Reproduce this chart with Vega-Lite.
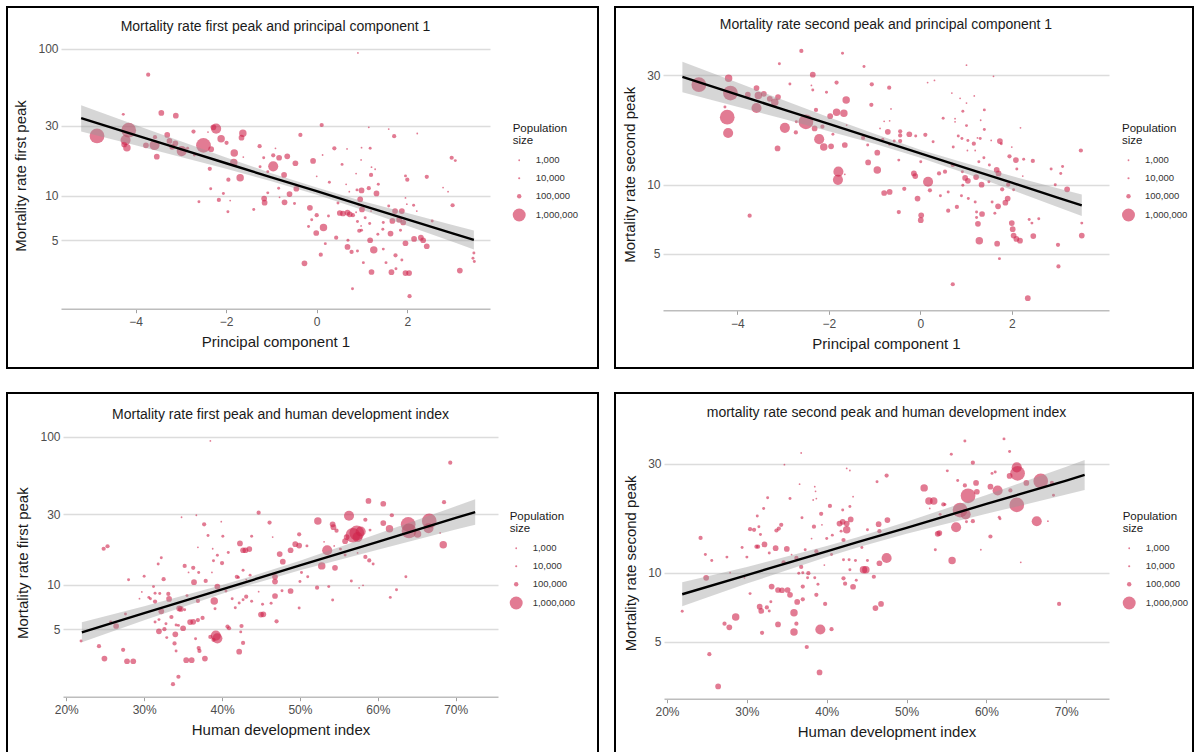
{
"$schema": "https://vega.github.io/schema/vega-lite/v6.json",
"padding": {"left": 6, "top": 6, "right": 0, "bottom": 0},
"background": "white",
"columns": 2,
"spacing": {"row": 25, "column": 17},
"bounds": "flush",
"resolve": {"scale": {"size": "independent", "x": "independent", "y": "independent"}, "legend": {"size": "independent"}},
"config": {
 "font": "Liberation Sans",
 "view": {"stroke": "#000000", "strokeWidth": 2},
 "axis": {"labelFont": "Liberation Sans", "labelFontSize": 12, "labelColor": "#4d4d4d", "titleFont": "Liberation Sans", "titleFontSize": 15, "titleFontWeight": "normal", "titleColor": "#1a1a1a", "gridColor": "#dcdcdc", "gridWidth": 1.4, "domainColor": "#bdbdbd", "domainWidth": 1.4, "tickColor": "#a0a0a0", "labelFlush": false},
 "axisX": {"grid": false, "tickSize": 4, "labelPadding": 4, "titlePadding": 7, "domain": true, "ticks": true},
 "axisY": {"grid": true, "domain": false, "ticks": false, "labelPadding": 3, "titlePadding": 9},
 "title": {"fontSize": 14, "fontWeight": "normal", "color": "#1a1a1a", "anchor": "middle", "frame": "group", "font": "Liberation Sans"},
 "legend": {"titleFontSize": 11.5, "titleFontWeight": "normal", "titleColor": "#1a1a1a", "labelFontSize": 9.5, "labelColor": "#333333", "rowPadding": 7, "labelOffset": 10, "titlePadding": 9, "titleLineHeight": 12, "symbolStrokeWidth": 0}
},
"datasets": {
 "p1": [
{"pc1":-3.72,"rate":66.8,"pop":90000},{"pc1":-4.27,"rate":35.9,"pop":35000},{"pc1":-3.43,"rate":36.7,"pop":180000},{"pc1":-3.11,"rate":35.2,"pop":180000},{"pc1":-4.85,"rate":25.6,"pop":1300000},{"pc1":-4.15,"rate":28.0,"pop":1300000},{"pc1":-4.22,"rate":24.0,"pop":600000},{"pc1":-4.19,"rate":21.3,"pop":320000},{"pc1":-4.25,"rate":22.4,"pop":180000},{"pc1":-3.77,"rate":22.1,"pop":180000},{"pc1":-3.58,"rate":22.2,"pop":600000},{"pc1":-3.53,"rate":18.5,"pop":180000},{"pc1":-3.30,"rate":26.0,"pop":180000},{"pc1":-3.57,"rate":25.1,"pop":90000},{"pc1":-3.25,"rate":23.7,"pop":180000},{"pc1":-3.12,"rate":22.8,"pop":180000},{"pc1":-2.98,"rate":20.2,"pop":600000},{"pc1":-3.19,"rate":21.6,"pop":180000},{"pc1":-2.85,"rate":21.1,"pop":35000},{"pc1":-2.72,"rate":27.4,"pop":90000},{"pc1":-2.70,"rate":19.0,"pop":35000},{"pc1":-2.50,"rate":22.1,"pop":1300000},{"pc1":-2.33,"rate":20.8,"pop":180000},{"pc1":-2.40,"rate":27.2,"pop":1000},{"pc1":-2.28,"rate":29.3,"pop":180000},{"pc1":-2.22,"rate":28.7,"pop":600000},{"pc1":-2.11,"rate":24.5,"pop":320000},{"pc1":-1.99,"rate":23.0,"pop":90000},{"pc1":-2.36,"rate":15.3,"pop":90000},{"pc1":-1.82,"rate":19.6,"pop":320000},{"pc1":-1.83,"rate":16.9,"pop":320000},{"pc1":-1.63,"rate":26.7,"pop":320000},{"pc1":-1.66,"rate":24.9,"pop":180000},{"pc1":-1.62,"rate":18.4,"pop":1000},{"pc1":-1.95,"rate":12.9,"pop":90000},{"pc1":-1.69,"rate":13.3,"pop":320000},{"pc1":-2.34,"rate":11.2,"pop":35000},{"pc1":-2.06,"rate":10.4,"pop":35000},{"pc1":-2.16,"rate":9.4,"pop":90000},{"pc1":-2.60,"rate":9.15,"pop":35000},{"pc1":-1.91,"rate":9.3,"pop":1000},{"pc1":-1.96,"rate":7.8,"pop":35000},{"pc1":-1.39,"rate":8.1,"pop":35000},{"pc1":-1.26,"rate":21.8,"pop":90000},{"pc1":-1.17,"rate":18.2,"pop":35000},{"pc1":-0.96,"rate":18.9,"pop":90000},{"pc1":-0.91,"rate":21.1,"pop":1000},{"pc1":-0.96,"rate":15.9,"pop":600000},{"pc1":-1.25,"rate":15.8,"pop":35000},{"pc1":-1.08,"rate":14.6,"pop":35000},{"pc1":-1.08,"rate":10.5,"pop":35000},{"pc1":-1.16,"rate":9.6,"pop":180000},{"pc1":-1.15,"rate":9.0,"pop":180000},{"pc1":-0.83,"rate":18.2,"pop":180000},{"pc1":-0.84,"rate":11.3,"pop":35000},{"pc1":-0.82,"rate":9.8,"pop":1000},
{"pc1":0.91,"rate":94,"pop":1000},{"pc1":0.11,"rate":30.4,"pop":90000},{"pc1":-0.36,"rate":26.0,"pop":90000},{"pc1":1.15,"rate":29.3,"pop":1000},{"pc1":1.59,"rate":28.5,"pop":1000},{"pc1":1.71,"rate":25.5,"pop":90000},{"pc1":2.22,"rate":26.6,"pop":1000},{"pc1":-0.65,"rate":18.6,"pop":180000},{"pc1":-0.47,"rate":16.7,"pop":180000},{"pc1":-0.08,"rate":17.3,"pop":180000},{"pc1":0.39,"rate":21.1,"pop":90000},{"pc1":0.67,"rate":20.9,"pop":1000},{"pc1":0.99,"rate":21.3,"pop":1000},{"pc1":1.18,"rate":21.1,"pop":35000},{"pc1":0.13,"rate":19.0,"pop":1000},{"pc1":0.98,"rate":17.6,"pop":1000},{"pc1":0.56,"rate":16.4,"pop":35000},{"pc1":1.21,"rate":15.7,"pop":1000},{"pc1":1.29,"rate":15.2,"pop":1000},{"pc1":-0.72,"rate":13.9,"pop":180000},{"pc1":0.00,"rate":13.6,"pop":1000},{"pc1":0.87,"rate":14.2,"pop":1000},{"pc1":1.20,"rate":13.9,"pop":90000},{"pc1":1.96,"rate":13.7,"pop":35000},{"pc1":2.00,"rate":12.9,"pop":90000},{"pc1":2.43,"rate":13.5,"pop":90000},{"pc1":2.98,"rate":18.2,"pop":90000},{"pc1":3.06,"rate":17.4,"pop":35000},{"pc1":0.28,"rate":12.4,"pop":35000},{"pc1":0.65,"rate":12.0,"pop":1000},{"pc1":0.72,"rate":10.7,"pop":1000},{"pc1":0.89,"rate":11.0,"pop":35000},{"pc1":0.99,"rate":10.9,"pop":180000},{"pc1":1.15,"rate":11.3,"pop":90000},{"pc1":1.32,"rate":10.4,"pop":180000},{"pc1":1.36,"rate":12.0,"pop":35000},{"pc1":-0.60,"rate":10.3,"pop":180000},{"pc1":-0.45,"rate":11.2,"pop":180000},{"pc1":-0.71,"rate":9.06,"pop":180000},{"pc1":-0.49,"rate":8.9,"pop":35000},{"pc1":-0.15,"rate":8.3,"pop":180000},{"pc1":0.47,"rate":8.96,"pop":35000},{"pc1":0.00,"rate":7.4,"pop":90000},{"pc1":-0.11,"rate":6.9,"pop":35000},{"pc1":-0.18,"rate":6.2,"pop":35000},{"pc1":-0.01,"rate":5.6,"pop":180000},{"pc1":0.15,"rate":6.1,"pop":320000},{"pc1":0.26,"rate":7.3,"pop":35000},{"pc1":0.51,"rate":7.66,"pop":180000},{"pc1":0.58,"rate":7.6,"pop":180000},{"pc1":0.68,"rate":7.7,"pop":180000},{"pc1":0.73,"rate":7.5,"pop":180000},{"pc1":0.80,"rate":7.4,"pop":90000},{"pc1":0.87,"rate":7.75,"pop":1000},{"pc1":0.93,"rate":8.7,"pop":35000},{"pc1":1.00,"rate":8.1,"pop":180000},{"pc1":1.20,"rate":7.9,"pop":1000},{"pc1":0.96,"rate":9.5,"pop":180000},{"pc1":1.59,"rate":8.55,"pop":35000},{"pc1":1.67,"rate":6.76,"pop":180000},{"pc1":1.73,"rate":7.9,"pop":180000},{"pc1":1.82,"rate":6.9,"pop":180000},{"pc1":1.88,"rate":7.9,"pop":180000},{"pc1":1.91,"rate":6.6,"pop":180000},{"pc1":1.99,"rate":8.8,"pop":1000},{"pc1":2.14,"rate":8.65,"pop":35000},{"pc1":2.21,"rate":7.9,"pop":1000},{"pc1":1.96,"rate":9.7,"pop":1000},{"pc1":2.55,"rate":6.76,"pop":35000},{"pc1":2.15,"rate":5.1,"pop":180000},{"pc1":2.30,"rate":5.2,"pop":180000},{"pc1":2.35,"rate":5.0,"pop":180000},{"pc1":2.43,"rate":4.55,"pop":180000},{"pc1":3.01,"rate":5.55,"pop":1000},{"pc1":1.63,"rate":5.55,"pop":180000},{"pc1":1.96,"rate":4.77,"pop":180000},{"pc1":1.85,"rate":5.85,"pop":35000},{"pc1":1.46,"rate":5.93,"pop":35000},{"pc1":1.35,"rate":5.5,"pop":35000},{"pc1":1.18,"rate":5.0,"pop":180000},{"pc1":1.26,"rate":4.3,"pop":320000},{"pc1":1.47,"rate":4.35,"pop":35000},{"pc1":1.74,"rate":3.95,"pop":90000},{"pc1":1.88,"rate":3.67,"pop":35000},{"pc1":1.53,"rate":3.52,"pop":35000},{"pc1":1.03,"rate":3.52,"pop":35000},{"pc1":0.90,"rate":4.23,"pop":35000},{"pc1":0.77,"rate":4.16,"pop":90000},{"pc1":0.68,"rate":4.5,"pop":180000},{"pc1":0.69,"rate":5.0,"pop":35000},{"pc1":0.94,"rate":5.8,"pop":90000},{"pc1":0.99,"rate":5.85,"pop":35000},{"pc1":0.19,"rate":4.74,"pop":35000},{"pc1":0.43,"rate":5.2,"pop":90000},{"pc1":0.09,"rate":3.99,"pop":90000},{"pc1":-0.27,"rate":3.48,"pop":180000},{"pc1":1.21,"rate":3.04,"pop":180000},{"pc1":1.65,"rate":3.03,"pop":180000},{"pc1":1.75,"rate":3.2,"pop":35000},{"pc1":1.96,"rate":2.99,"pop":180000},{"pc1":2.04,"rate":2.99,"pop":180000},{"pc1":3.16,"rate":3.11,"pop":180000},{"pc1":0.79,"rate":2.34,"pop":35000},{"pc1":2.05,"rate":2.08,"pop":90000},{"pc1":3.47,"rate":4.1,"pop":35000},{"pc1":3.45,"rate":3.77,"pop":35000},{"pc1":3.48,"rate":3.58,"pop":35000},{"pc1":3.00,"rate":8.65,"pop":90000},{"pc1":2.79,"rate":11.4,"pop":1000},{"pc1":2.90,"rate":10.7,"pop":1000},{"pc1":1.07,"rate":7.1,"pop":35000},{"pc1":0.90,"rate":6.7,"pop":35000},{"pc1":0.98,"rate":6.25,"pop":1000},{"pc1":1.17,"rate":6.5,"pop":35000},{"pc1":1.47,"rate":6.6,"pop":35000}
 ],
 "band1": [
{"pc1":-5.2,"lo":27.5,"hi":41.4,"fit":33.8},{"pc1":-4,"lo":22.1,"hi":30.4,"fit":25.9},{"pc1":-3,"lo":18.4,"hi":23.6,"fit":20.8},{"pc1":-2,"lo":15.3,"hi":18.3,"fit":16.7},{"pc1":-1,"lo":12.6,"hi":14.3,"fit":13.4},{"pc1":0,"lo":10.2,"hi":11.4,"fit":10.8},{"pc1":1,"lo":8.06,"hi":9.26,"fit":8.64},{"pc1":2,"lo":6.28,"hi":7.65,"fit":6.93},{"pc1":3,"lo":4.88,"hi":6.35,"fit":5.57},{"pc1":3.47,"lo":4.33,"hi":5.82,"fit":5.02}
 ],
 "p2": [
{"pc1":-4.84,"rate":27.3,"pop":1300000},{"pc1":-4.19,"rate":29.1,"pop":320000},{"pc1":-4.15,"rate":25.1,"pop":1300000},{"pc1":-4.22,"rate":19.7,"pop":1300000},{"pc1":-4.20,"rate":16.8,"pop":600000},{"pc1":-4.27,"rate":21.8,"pop":35000},{"pc1":-3.77,"rate":24.7,"pop":180000},{"pc1":-3.58,"rate":26.4,"pop":180000},{"pc1":-3.54,"rate":24.5,"pop":320000},{"pc1":-3.58,"rate":21.6,"pop":600000},{"pc1":-3.42,"rate":24.9,"pop":180000},{"pc1":-3.29,"rate":23.7,"pop":180000},{"pc1":-3.18,"rate":22.9,"pop":320000},{"pc1":-3.11,"rate":24.1,"pop":180000},{"pc1":-3.08,"rate":33.7,"pop":35000},{"pc1":-2.85,"rate":27.5,"pop":35000},{"pc1":-2.96,"rate":17.7,"pop":600000},{"pc1":-2.72,"rate":16.9,"pop":90000},{"pc1":-3.12,"rate":14.4,"pop":180000},{"pc1":-2.71,"rate":18.8,"pop":35000},{"pc1":-2.60,"rate":38.3,"pop":90000},{"pc1":-2.35,"rate":30.2,"pop":180000},{"pc1":-2.38,"rate":27.1,"pop":1000},{"pc1":-2.35,"rate":25.9,"pop":35000},{"pc1":-2.05,"rate":25.3,"pop":35000},{"pc1":-1.83,"rate":27.9,"pop":90000},{"pc1":-1.70,"rate":37.4,"pop":35000},{"pc1":-1.23,"rate":32.8,"pop":35000},{"pc1":-1.06,"rate":27.4,"pop":90000},{"pc1":-1.62,"rate":23.4,"pop":320000},{"pc1":-2.28,"rate":21.2,"pop":90000},{"pc1":-1.83,"rate":20.7,"pop":320000},{"pc1":-1.67,"rate":20.5,"pop":320000},{"pc1":-1.97,"rate":19.9,"pop":180000},{"pc1":-2.50,"rate":18.8,"pop":1300000},{"pc1":-2.31,"rate":17.6,"pop":180000},{"pc1":-2.14,"rate":17.9,"pop":90000},{"pc1":-2.21,"rate":15.8,"pop":600000},{"pc1":-2.11,"rate":14.6,"pop":320000},{"pc1":-1.95,"rate":14.7,"pop":180000},{"pc1":-1.65,"rate":14.9,"pop":180000},{"pc1":-1.91,"rate":16.6,"pop":35000},{"pc1":-1.61,"rate":18.2,"pop":1000},{"pc1":-1.07,"rate":22.3,"pop":90000},{"pc1":-1.25,"rate":16.0,"pop":90000},{"pc1":-1.15,"rate":14.9,"pop":35000},{"pc1":-0.94,"rate":13.8,"pop":180000},{"pc1":-1.14,"rate":12.5,"pop":180000},{"pc1":-0.94,"rate":11.6,"pop":320000},{"pc1":-1.79,"rate":11.4,"pop":600000},{"pc1":-1.80,"rate":10.5,"pop":600000},{"pc1":-1.65,"rate":11.1,"pop":1000},{"pc1":-3.73,"rate":7.33,"pop":90000},{"pc1":-0.79,"rate":9.2,"pop":180000},{"pc1":-0.67,"rate":9.3,"pop":180000},{"pc1":-0.68,"rate":26.5,"pop":90000},{"pc1":-0.79,"rate":18.9,"pop":1000},{"pc1":-0.67,"rate":19.0,"pop":1000},{"pc1":-0.71,"rate":17.0,"pop":180000},{"pc1":-0.82,"rate":15.8,"pop":35000},{"pc1":-0.67,"rate":15.0,"pop":35000},{"pc1":-0.88,"rate":17.6,"pop":1000},
{"pc1":-0.64,"rate":21.4,"pop":1000},{"pc1":-0.44,"rate":17.1,"pop":90000},{"pc1":-0.44,"rate":16.4,"pop":90000},{"pc1":-0.44,"rate":15.5,"pop":90000},{"pc1":-0.24,"rate":16.6,"pop":180000},{"pc1":-0.10,"rate":16.3,"pop":35000},{"pc1":0.11,"rate":16.5,"pop":90000},{"pc1":0.28,"rate":15.4,"pop":35000},{"pc1":-0.57,"rate":15.5,"pop":35000},{"pc1":-0.47,"rate":12.8,"pop":35000},{"pc1":0.16,"rate":27.9,"pop":1000},{"pc1":0.31,"rate":28.5,"pop":1000},{"pc1":1.01,"rate":33.2,"pop":1000},{"pc1":1.60,"rate":29.7,"pop":1000},{"pc1":0.69,"rate":25.1,"pop":1000},{"pc1":0.87,"rate":23.8,"pop":1000},{"pc1":1.01,"rate":22.7,"pop":1000},{"pc1":1.18,"rate":24.4,"pop":1000},{"pc1":0.93,"rate":20.9,"pop":35000},{"pc1":0.50,"rate":19.5,"pop":35000},{"pc1":0.76,"rate":19.4,"pop":1000},{"pc1":0.76,"rate":18.8,"pop":1000},{"pc1":1.01,"rate":18.1,"pop":35000},{"pc1":1.32,"rate":19.1,"pop":1000},{"pc1":1.40,"rate":21.2,"pop":35000},{"pc1":1.40,"rate":17.4,"pop":35000},{"pc1":0.83,"rate":16.3,"pop":35000},{"pc1":0.91,"rate":15.9,"pop":35000},{"pc1":1.04,"rate":15.6,"pop":35000},{"pc1":1.25,"rate":16.0,"pop":1000},{"pc1":1.31,"rate":15.9,"pop":35000},{"pc1":1.17,"rate":15.1,"pop":90000},{"pc1":0.72,"rate":14.6,"pop":35000},{"pc1":1.03,"rate":14.1,"pop":1000},{"pc1":1.20,"rate":14.1,"pop":1000},{"pc1":1.55,"rate":15.6,"pop":1000},{"pc1":1.74,"rate":15.5,"pop":180000},{"pc1":1.77,"rate":15.1,"pop":35000},{"pc1":2.00,"rate":14.6,"pop":1000},{"pc1":2.19,"rate":17.7,"pop":1000},{"pc1":1.95,"rate":13.3,"pop":90000},{"pc1":2.09,"rate":12.8,"pop":180000},{"pc1":2.26,"rate":12.9,"pop":35000},{"pc1":2.46,"rate":12.7,"pop":90000},{"pc1":2.11,"rate":11.7,"pop":35000},{"pc1":2.86,"rate":11.7,"pop":35000},{"pc1":3.11,"rate":12.0,"pop":35000},{"pc1":3.07,"rate":11.2,"pop":35000},{"pc1":3.51,"rate":14.1,"pop":90000},{"pc1":2.95,"rate":10.0,"pop":35000},{"pc1":3.21,"rate":9.55,"pop":180000},{"pc1":1.28,"rate":12.6,"pop":35000},{"pc1":1.39,"rate":13.1,"pop":35000},{"pc1":1.51,"rate":12.2,"pop":35000},{"pc1":1.67,"rate":11.6,"pop":180000},{"pc1":1.71,"rate":11.2,"pop":180000},{"pc1":1.92,"rate":10.0,"pop":90000},{"pc1":2.04,"rate":9.5,"pop":35000},{"pc1":2.24,"rate":10.9,"pop":1000},{"pc1":1.79,"rate":9.55,"pop":90000},{"pc1":1.50,"rate":10.3,"pop":35000},{"pc1":1.34,"rate":10.0,"pop":180000},{"pc1":1.22,"rate":10.8,"pop":180000},{"pc1":0.98,"rate":10.7,"pop":180000},{"pc1":1.04,"rate":10.4,"pop":180000},{"pc1":0.92,"rate":11.4,"pop":35000},{"pc1":0.93,"rate":9.95,"pop":35000},{"pc1":0.71,"rate":12.2,"pop":90000},{"pc1":0.54,"rate":11.4,"pop":90000},{"pc1":0.41,"rate":11.2,"pop":90000},{"pc1":0.17,"rate":10.3,"pop":600000},{"pc1":0.21,"rate":9.45,"pop":90000},{"pc1":-0.14,"rate":11.2,"pop":180000},{"pc1":-0.11,"rate":10.9,"pop":180000},{"pc1":0.01,"rate":12.6,"pop":35000},{"pc1":-0.35,"rate":9.6,"pop":90000},{"pc1":-0.06,"rate":8.7,"pop":180000},{"pc1":0.44,"rate":8.95,"pop":35000},{"pc1":0.61,"rate":9.3,"pop":35000},{"pc1":0.90,"rate":8.95,"pop":35000},{"pc1":1.05,"rate":8.7,"pop":35000},{"pc1":1.20,"rate":8.4,"pop":35000},{"pc1":0.80,"rate":8.0,"pop":90000},{"pc1":0.61,"rate":7.7,"pop":90000},{"pc1":-0.47,"rate":7.6,"pop":90000},{"pc1":0.02,"rate":7.35,"pop":180000},{"pc1":0.01,"rate":7.0,"pop":180000},{"pc1":1.23,"rate":7.6,"pop":35000},{"pc1":1.35,"rate":7.45,"pop":180000},{"pc1":1.23,"rate":7.2,"pop":35000},{"pc1":1.26,"rate":6.75,"pop":180000},{"pc1":1.57,"rate":8.4,"pop":35000},{"pc1":1.63,"rate":7.5,"pop":35000},{"pc1":1.70,"rate":8.05,"pop":180000},{"pc1":1.86,"rate":8.35,"pop":180000},{"pc1":1.91,"rate":8.7,"pop":180000},{"pc1":2.00,"rate":6.8,"pop":180000},{"pc1":2.02,"rate":6.4,"pop":180000},{"pc1":2.04,"rate":6.0,"pop":180000},{"pc1":2.10,"rate":5.8,"pop":180000},{"pc1":2.18,"rate":5.7,"pop":180000},{"pc1":2.38,"rate":7.05,"pop":35000},{"pc1":2.44,"rate":6.8,"pop":35000},{"pc1":2.59,"rate":7.1,"pop":35000},{"pc1":2.47,"rate":5.97,"pop":180000},{"pc1":3.53,"rate":6.8,"pop":35000},{"pc1":3.53,"rate":6.0,"pop":180000},{"pc1":3.01,"rate":5.47,"pop":90000},{"pc1":3.02,"rate":4.4,"pop":90000},{"pc1":1.29,"rate":5.7,"pop":320000},{"pc1":1.68,"rate":5.53,"pop":180000},{"pc1":1.73,"rate":4.76,"pop":35000},{"pc1":0.71,"rate":3.68,"pop":90000},{"pc1":2.35,"rate":3.2,"pop":180000}
 ],
 "band2": [
{"pc1":-5.2,"lo":25.3,"hi":34.4,"fit":29.5},{"pc1":-4,"lo":21.9,"hi":27.9,"fit":24.7},{"pc1":-3,"lo":19.4,"hi":23.4,"fit":21.3},{"pc1":-2,"lo":17.1,"hi":19.7,"fit":18.4},{"pc1":-1,"lo":15.1,"hi":16.7,"fit":15.9},{"pc1":0,"lo":13.1,"hi":14.2,"fit":13.7},{"pc1":1,"lo":11.2,"hi":12.4,"fit":11.8},{"pc1":2,"lo":9.5,"hi":10.9,"fit":10.2},{"pc1":3,"lo":8.0,"hi":9.66,"fit":8.79},{"pc1":3.53,"lo":7.3,"hi":9.06,"fit":8.13}
 ],
 "p3": [
{"hdi":0.219,"rate":4.16,"pop":35000},{"hdi":0.242,"rate":3.83,"pop":90000},{"hdi":0.249,"rate":3.16,"pop":180000},{"hdi":0.248,"rate":17.5,"pop":90000},{"hdi":0.253,"rate":18.2,"pop":90000},{"hdi":0.257,"rate":5.58,"pop":35000},{"hdi":0.264,"rate":5.25,"pop":180000},{"hdi":0.273,"rate":3.62,"pop":90000},{"hdi":0.278,"rate":3.03,"pop":180000},{"hdi":0.286,"rate":3.03,"pop":180000},{"hdi":0.280,"rate":10.8,"pop":35000},{"hdi":0.276,"rate":6.34,"pop":35000},{"hdi":0.300,"rate":11.4,"pop":35000},{"hdi":0.297,"rate":8.93,"pop":1000},{"hdi":0.294,"rate":8.04,"pop":1000},{"hdi":0.306,"rate":8.2,"pop":35000},{"hdi":0.308,"rate":8.04,"pop":35000},{"hdi":0.312,"rate":9.7,"pop":35000},{"hdi":0.314,"rate":8.74,"pop":35000},{"hdi":0.320,"rate":8.7,"pop":35000},{"hdi":0.318,"rate":13.8,"pop":35000},{"hdi":0.322,"rate":15.2,"pop":35000},{"hdi":0.325,"rate":10.9,"pop":90000},{"hdi":0.322,"rate":6.6,"pop":180000},{"hdi":0.314,"rate":7.68,"pop":90000},{"hdi":0.314,"rate":5.58,"pop":35000},{"hdi":0.319,"rate":5.8,"pop":35000},{"hdi":0.319,"rate":4.83,"pop":180000},{"hdi":0.326,"rate":5.0,"pop":90000},{"hdi":0.328,"rate":5.44,"pop":35000},{"hdi":0.329,"rate":4.38,"pop":35000},{"hdi":0.331,"rate":8.65,"pop":90000},{"hdi":0.332,"rate":8.0,"pop":180000},{"hdi":0.335,"rate":6.04,"pop":90000},{"hdi":0.340,"rate":4.61,"pop":180000},{"hdi":0.339,"rate":4.0,"pop":90000},{"hdi":0.341,"rate":3.56,"pop":35000},{"hdi":0.341,"rate":5.34,"pop":35000},{"hdi":0.344,"rate":5.3,"pop":35000},{"hdi":0.345,"rate":6.9,"pop":180000},{"hdi":0.347,"rate":6.85,"pop":180000},{"hdi":0.352,"rate":6.77,"pop":35000},{"hdi":0.354,"rate":3.08,"pop":180000},{"hdi":0.361,"rate":3.08,"pop":180000},{"hdi":0.337,"rate":2.12,"pop":90000},{"hdi":0.344,"rate":2.38,"pop":90000},{"hdi":0.350,"rate":5.07,"pop":180000},{"hdi":0.359,"rate":5.58,"pop":180000},{"hdi":0.363,"rate":5.6,"pop":180000},{"hdi":0.369,"rate":5.76,"pop":90000},{"hdi":0.375,"rate":5.95,"pop":90000},{"hdi":0.366,"rate":4.31,"pop":35000},{"hdi":0.370,"rate":3.72,"pop":90000},{"hdi":0.371,"rate":3.56,"pop":90000},{"hdi":0.378,"rate":3.16,"pop":180000},{"hdi":0.355,"rate":8.43,"pop":35000},{"hdi":0.352,"rate":13.4,"pop":90000},{"hdi":0.357,"rate":12.1,"pop":1000},{"hdi":0.363,"rate":13.0,"pop":90000},{"hdi":0.370,"rate":12.1,"pop":35000},{"hdi":0.364,"rate":10.4,"pop":180000},{"hdi":0.369,"rate":7.76,"pop":90000},{"hdi":0.379,"rate":10.6,"pop":90000},{"hdi":0.348,"rate":28.6,"pop":1000},{"hdi":0.367,"rate":29.5,"pop":1000},{"hdi":0.377,"rate":25.6,"pop":90000},{"hdi":0.369,"rate":17.9,"pop":1000},{"hdi":0.382,"rate":21.5,"pop":35000},{"hdi":0.385,"rate":94,"pop":1000},{"hdi":0.388,"rate":17.5,"pop":1000},{"hdi":0.387,"rate":12.1,"pop":1000},{"hdi":0.389,"rate":14.5,"pop":35000},{"hdi":0.394,"rate":15.8,"pop":35000},{"hdi":0.394,"rate":9.7,"pop":180000},{"hdi":0.390,"rate":7.76,"pop":320000},{"hdi":0.391,"rate":6.88,"pop":35000},{"hdi":0.385,"rate":4.43,"pop":90000},{"hdi":0.392,"rate":4.52,"pop":600000},{"hdi":0.394,"rate":4.33,"pop":600000},{"hdi":0.389,"rate":4.23,"pop":90000},{"hdi":0.399,"rate":26.7,"pop":1000},{"hdi":0.401,"rate":21.3,"pop":35000},{"hdi":0.400,"rate":14.0,"pop":90000},{"hdi":0.408,"rate":16.5,"pop":35000},{"hdi":0.405,"rate":9.06,"pop":35000},{"hdi":0.407,"rate":5.2,"pop":90000},{"hdi":0.409,"rate":5.07,"pop":90000},{"hdi":0.413,"rate":8.04,"pop":35000},{"hdi":0.417,"rate":6.98,"pop":35000},{"hdi":0.419,"rate":11.3,"pop":90000},{"hdi":0.421,"rate":11.2,"pop":35000},{"hdi":0.422,"rate":7.52,"pop":35000},{"hdi":0.423,"rate":19.0,"pop":180000},{"hdi":0.427,"rate":17.1,"pop":180000},{"hdi":0.430,"rate":17.1,"pop":180000},{"hdi":0.435,"rate":17.4,"pop":180000},{"hdi":0.427,"rate":12.5,"pop":35000},{"hdi":0.431,"rate":10.8,"pop":1000},{"hdi":0.436,"rate":11.6,"pop":35000},{"hdi":0.438,"rate":21.3,"pop":35000},{"hdi":0.447,"rate":30.7,"pop":90000},{"hdi":0.461,"rate":26.3,"pop":90000},{"hdi":0.465,"rate":21.0,"pop":1000},{"hdi":0.431,"rate":8.29,"pop":90000},{"hdi":0.427,"rate":7.9,"pop":35000},{"hdi":0.438,"rate":7.72,"pop":35000},{"hdi":0.425,"rate":5.25,"pop":90000},{"hdi":0.424,"rate":4.79,"pop":35000},{"hdi":0.427,"rate":4.03,"pop":90000},{"hdi":0.422,"rate":3.52,"pop":180000},{"hdi":0.447,"rate":8.97,"pop":1000},{"hdi":0.450,"rate":6.27,"pop":180000},{"hdi":0.453,"rate":6.3,"pop":180000},{"hdi":0.452,"rate":7.37,"pop":35000},{"hdi":0.463,"rate":7.48,"pop":35000},{"hdi":0.470,"rate":5.65,"pop":90000},{"hdi":0.468,"rate":8.38,"pop":180000},{"hdi":0.468,"rate":11.3,"pop":180000},{"hdi":0.468,"rate":10.5,"pop":180000},{"hdi":0.474,"rate":16.1,"pop":180000},
{"hdi":0.693,"rate":67,"pop":90000},{"hdi":0.685,"rate":36.2,"pop":90000},{"hdi":0.588,"rate":36.9,"pop":180000},{"hdi":0.607,"rate":35.3,"pop":180000},{"hdi":0.523,"rate":27.0,"pop":320000},{"hdi":0.563,"rate":29.3,"pop":600000},{"hdi":0.584,"rate":27.5,"pop":90000},{"hdi":0.618,"rate":29.5,"pop":90000},{"hdi":0.542,"rate":25.6,"pop":180000},{"hdi":0.543,"rate":24.5,"pop":180000},{"hdi":0.547,"rate":23.2,"pop":90000},{"hdi":0.607,"rate":26.1,"pop":180000},{"hdi":0.590,"rate":23.4,"pop":35000},{"hdi":0.615,"rate":23.9,"pop":320000},{"hdi":0.639,"rate":25.6,"pop":1300000},{"hdi":0.640,"rate":23.1,"pop":1300000},{"hdi":0.651,"rate":22.0,"pop":320000},{"hdi":0.666,"rate":27.0,"pop":1300000},{"hdi":0.665,"rate":24.1,"pop":600000},{"hdi":0.680,"rate":22.4,"pop":1000},{"hdi":0.684,"rate":18.6,"pop":320000},{"hdi":0.568,"rate":21.6,"pop":1300000},{"hdi":0.573,"rate":22.4,"pop":1300000},{"hdi":0.578,"rate":22.9,"pop":600000},{"hdi":0.574,"rate":21.0,"pop":600000},{"hdi":0.558,"rate":19.7,"pop":180000},{"hdi":0.560,"rate":21.0,"pop":180000},{"hdi":0.552,"rate":17.4,"pop":35000},{"hdi":0.535,"rate":17.1,"pop":600000},{"hdi":0.531,"rate":19.5,"pop":1000},{"hdi":0.544,"rate":18.3,"pop":1000},{"hdi":0.558,"rate":15.9,"pop":35000},{"hdi":0.574,"rate":16.4,"pop":1000},{"hdi":0.584,"rate":15.4,"pop":90000},{"hdi":0.589,"rate":14.6,"pop":90000},{"hdi":0.594,"rate":13.8,"pop":35000},{"hdi":0.528,"rate":13.4,"pop":320000},{"hdi":0.545,"rate":13.0,"pop":180000},{"hdi":0.522,"rate":9.54,"pop":90000},{"hdi":0.537,"rate":9.7,"pop":35000},{"hdi":0.542,"rate":7.88,"pop":35000},{"hdi":0.566,"rate":10.6,"pop":35000},{"hdi":0.576,"rate":9.5,"pop":1000},{"hdi":0.581,"rate":9.9,"pop":1000},{"hdi":0.616,"rate":8.2,"pop":35000},{"hdi":0.624,"rate":9.25,"pop":35000},{"hdi":0.636,"rate":11.3,"pop":35000},{"hdi":0.499,"rate":21.9,"pop":90000},{"hdi":0.494,"rate":18.8,"pop":180000},{"hdi":0.499,"rate":18.4,"pop":180000},{"hdi":0.509,"rate":18.3,"pop":35000},{"hdi":0.488,"rate":17.1,"pop":180000},{"hdi":0.478,"rate":14.3,"pop":180000},{"hdi":0.502,"rate":12.1,"pop":35000},{"hdi":0.510,"rate":11.3,"pop":35000},{"hdi":0.500,"rate":10.5,"pop":35000},{"hdi":0.477,"rate":9.1,"pop":35000},{"hdi":0.488,"rate":9.06,"pop":180000},{"hdi":0.499,"rate":6.95,"pop":35000}
 ],
 "band3": [
{"hdi":0.22,"lo":4.07,"hi":5.56,"fit":4.76},{"hdi":0.3,"lo":5.74,"hi":7.15,"fit":6.41},{"hdi":0.4,"lo":8.68,"hi":9.93,"fit":9.29},{"hdi":0.438,"lo":10.05,"hi":11.38,"fit":10.7},{"hdi":0.5,"lo":12.5,"hi":14.5,"fit":13.5},{"hdi":0.6,"lo":17.2,"hi":22.1,"fit":19.5},{"hdi":0.7,"lo":23.6,"hi":33.9,"fit":28.3},{"hdi":0.725,"lo":25.4,"hi":37.8,"fit":31.0}
 ],
 "p4": [
{"hdi":0.219,"rate":6.78,"pop":35000},{"hdi":0.249,"rate":9.5,"pop":180000},{"hdi":0.242,"rate":14.2,"pop":90000},{"hdi":0.248,"rate":12.0,"pop":35000},{"hdi":0.256,"rate":11.3,"pop":35000},{"hdi":0.253,"rate":4.4,"pop":90000},{"hdi":0.264,"rate":3.18,"pop":180000},{"hdi":0.272,"rate":5.98,"pop":90000},{"hdi":0.278,"rate":5.77,"pop":180000},{"hdi":0.286,"rate":6.4,"pop":320000},{"hdi":0.275,"rate":11.7,"pop":35000},{"hdi":0.279,"rate":10.0,"pop":1000},{"hdi":0.294,"rate":12.9,"pop":35000},{"hdi":0.300,"rate":11.7,"pop":35000},{"hdi":0.304,"rate":8.1,"pop":35000},{"hdi":0.297,"rate":9.5,"pop":1000},{"hdi":0.304,"rate":15.5,"pop":90000},{"hdi":0.309,"rate":15.4,"pop":90000},{"hdi":0.313,"rate":17.7,"pop":35000},{"hdi":0.315,"rate":15.9,"pop":35000},{"hdi":0.312,"rate":13.0,"pop":90000},{"hdi":0.314,"rate":13.0,"pop":90000},{"hdi":0.317,"rate":14.7,"pop":35000},{"hdi":0.321,"rate":19.1,"pop":35000},{"hdi":0.326,"rate":21.3,"pop":35000},{"hdi":0.322,"rate":13.3,"pop":180000},{"hdi":0.328,"rate":12.2,"pop":35000},{"hdi":0.316,"rate":7.1,"pop":180000},{"hdi":0.318,"rate":6.8,"pop":180000},{"hdi":0.325,"rate":7.05,"pop":90000},{"hdi":0.328,"rate":6.8,"pop":35000},{"hdi":0.319,"rate":5.46,"pop":90000},{"hdi":0.330,"rate":7.47,"pop":35000},{"hdi":0.331,"rate":8.7,"pop":180000},{"hdi":0.336,"rate":12.8,"pop":180000},{"hdi":0.337,"rate":15.3,"pop":90000},{"hdi":0.340,"rate":15.6,"pop":90000},{"hdi":0.343,"rate":16.2,"pop":90000},{"hdi":0.339,"rate":5.94,"pop":180000},{"hdi":0.339,"rate":8.4,"pop":180000},{"hdi":0.344,"rate":8.38,"pop":180000},{"hdi":0.347,"rate":29.7,"pop":1000},{"hdi":0.354,"rate":21.1,"pop":35000},{"hdi":0.350,"rate":12.7,"pop":180000},{"hdi":0.351,"rate":8.4,"pop":180000},{"hdi":0.354,"rate":8.0,"pop":180000},{"hdi":0.359,"rate":6.68,"pop":320000},{"hdi":0.363,"rate":7.45,"pop":180000},{"hdi":0.362,"rate":5.98,"pop":90000},{"hdi":0.359,"rate":5.5,"pop":320000},{"hdi":0.346,"rate":11.1,"pop":90000},{"hdi":0.356,"rate":12.0,"pop":1000},{"hdi":0.362,"rate":11.6,"pop":90000},{"hdi":0.366,"rate":24.4,"pop":1000},{"hdi":0.368,"rate":33.4,"pop":1000},{"hdi":0.369,"rate":17.4,"pop":35000},{"hdi":0.368,"rate":10.6,"pop":90000},{"hdi":0.365,"rate":9.95,"pop":35000},{"hdi":0.370,"rate":10.0,"pop":35000},{"hdi":0.377,"rate":9.95,"pop":90000},{"hdi":0.373,"rate":12.6,"pop":35000},{"hdi":0.370,"rate":8.7,"pop":90000},{"hdi":0.370,"rate":7.65,"pop":90000},{"hdi":0.376,"rate":9.5,"pop":35000},{"hdi":0.375,"rate":4.73,"pop":90000},{"hdi":0.391,"rate":3.66,"pop":180000},{"hdi":0.392,"rate":5.64,"pop":600000},{"hdi":0.406,"rate":5.66,"pop":90000},{"hdi":0.387,"rate":8.0,"pop":90000},{"hdi":0.389,"rate":8.9,"pop":35000},{"hdi":0.385,"rate":9.5,"pop":35000},{"hdi":0.398,"rate":7.3,"pop":90000},{"hdi":0.383,"rate":20.8,"pop":1000},{"hdi":0.387,"rate":21.1,"pop":1000},{"hdi":0.385,"rate":23.8,"pop":1000},{"hdi":0.386,"rate":22.7,"pop":1000},{"hdi":0.384,"rate":15.9,"pop":90000},{"hdi":0.381,"rate":14.1,"pop":1000},{"hdi":0.393,"rate":18.1,"pop":90000},{"hdi":0.394,"rate":16.2,"pop":1000},{"hdi":0.387,"rate":12.4,"pop":90000},{"hdi":0.400,"rate":14.1,"pop":35000},{"hdi":0.407,"rate":14.6,"pop":35000},{"hdi":0.404,"rate":19.6,"pop":90000},{"hdi":0.420,"rate":18.8,"pop":35000},{"hdi":0.429,"rate":19.5,"pop":35000},{"hdi":0.433,"rate":21.5,"pop":1000},{"hdi":0.425,"rate":28.6,"pop":1000},{"hdi":0.429,"rate":28.0,"pop":1000},{"hdi":0.416,"rate":16.4,"pop":180000},{"hdi":0.420,"rate":16.7,"pop":180000},{"hdi":0.425,"rate":16.4,"pop":180000},{"hdi":0.430,"rate":17.1,"pop":180000},{"hdi":0.418,"rate":15.2,"pop":35000},{"hdi":0.425,"rate":15.4,"pop":320000},{"hdi":0.421,"rate":13.9,"pop":90000},{"hdi":0.406,"rate":12.0,"pop":35000},{"hdi":0.397,"rate":10.8,"pop":1000},{"hdi":0.421,"rate":11.4,"pop":35000},{"hdi":0.428,"rate":11.4,"pop":35000},{"hdi":0.436,"rate":11.3,"pop":35000},{"hdi":0.429,"rate":10.3,"pop":35000},{"hdi":0.421,"rate":9.45,"pop":90000},{"hdi":0.423,"rate":8.95,"pop":90000},{"hdi":0.433,"rate":8.68,"pop":180000},{"hdi":0.437,"rate":9.26,"pop":35000},{"hdi":0.446,"rate":10.3,"pop":320000},{"hdi":0.449,"rate":10.3,"pop":320000},{"hdi":0.444,"rate":12.9,"pop":35000},{"hdi":0.451,"rate":11.3,"pop":35000},{"hdi":0.451,"rate":15.4,"pop":35000},{"hdi":0.459,"rate":9.6,"pop":90000},{"hdi":0.461,"rate":7.0,"pop":180000},{"hdi":0.468,"rate":7.3,"pop":180000},{"hdi":0.463,"rate":25.0,"pop":35000},{"hdi":0.475,"rate":26.6,"pop":90000},{"hdi":0.465,"rate":16.3,"pop":180000},{"hdi":0.466,"rate":15.2,"pop":90000},{"hdi":0.466,"rate":11.0,"pop":180000},{"hdi":0.476,"rate":17.0,"pop":180000},{"hdi":0.475,"rate":11.6,"pop":600000},
{"hdi":0.622,"rate":38.5,"pop":35000},{"hdi":0.573,"rate":37.7,"pop":35000},{"hdi":0.556,"rate":33.0,"pop":35000},{"hdi":0.629,"rate":33.9,"pop":35000},{"hdi":0.583,"rate":30.3,"pop":90000},{"hdi":0.638,"rate":28.9,"pop":600000},{"hdi":0.639,"rate":27.2,"pop":1300000},{"hdi":0.629,"rate":26.5,"pop":180000},{"hdi":0.607,"rate":27.2,"pop":35000},{"hdi":0.611,"rate":27.6,"pop":35000},{"hdi":0.551,"rate":27.9,"pop":35000},{"hdi":0.564,"rate":25.3,"pop":35000},{"hdi":0.573,"rate":24.1,"pop":90000},{"hdi":0.587,"rate":24.7,"pop":180000},{"hdi":0.588,"rate":22.6,"pop":180000},{"hdi":0.577,"rate":21.7,"pop":1300000},{"hdi":0.605,"rate":23.8,"pop":180000},{"hdi":0.614,"rate":22.9,"pop":600000},{"hdi":0.630,"rate":22.9,"pop":90000},{"hdi":0.650,"rate":24.7,"pop":180000},{"hdi":0.668,"rate":25.2,"pop":1300000},{"hdi":0.682,"rate":24.7,"pop":90000},{"hdi":0.684,"rate":21.8,"pop":35000},{"hdi":0.638,"rate":19.8,"pop":1300000},{"hdi":0.567,"rate":18.8,"pop":1300000},{"hdi":0.574,"rate":18.0,"pop":600000},{"hdi":0.562,"rate":15.8,"pop":600000},{"hdi":0.583,"rate":16.8,"pop":90000},{"hdi":0.575,"rate":16.7,"pop":35000},{"hdi":0.616,"rate":17.5,"pop":35000},{"hdi":0.617,"rate":17.2,"pop":35000},{"hdi":0.663,"rate":16.8,"pop":600000},{"hdi":0.677,"rate":16.8,"pop":1000},{"hdi":0.605,"rate":14.4,"pop":90000},{"hdi":0.593,"rate":12.6,"pop":1000},{"hdi":0.557,"rate":11.3,"pop":320000},{"hdi":0.643,"rate":11.1,"pop":1000},{"hdi":0.691,"rate":7.3,"pop":90000},{"hdi":0.539,"rate":14.8,"pop":180000},{"hdi":0.541,"rate":14.9,"pop":180000},{"hdi":0.536,"rate":12.6,"pop":35000},{"hdi":0.548,"rate":19.9,"pop":35000},{"hdi":0.522,"rate":23.5,"pop":320000},{"hdi":0.528,"rate":20.6,"pop":320000},{"hdi":0.534,"rate":20.6,"pop":320000},{"hdi":0.542,"rate":18.0,"pop":35000},{"hdi":0.529,"rate":19.1,"pop":1000},{"hdi":0.546,"rate":19.9,"pop":90000}
 ],
 "band4": [
{"hdi":0.219,"lo":7.13,"hi":9.08,"fit":8.05},{"hdi":0.3,"lo":8.96,"hi":10.6,"fit":9.76},{"hdi":0.4,"lo":11.7,"hi":13.1,"fit":12.4},{"hdi":0.4385,"lo":12.9,"hi":14.28,"fit":13.6},{"hdi":0.5,"lo":14.8,"hi":16.7,"fit":15.7},{"hdi":0.6,"lo":18.1,"hi":21.9,"fit":20.0},{"hdi":0.7,"lo":22.0,"hi":29.1,"fit":25.3},{"hdi":0.723,"lo":23.0,"hi":31.1,"fit":26.8}
 ]
},
"concat": [
 {
  "width": 591, "height": 361,
  "title": {"text": "Mortality rate first peak and principal component 1", "offset": -27, "dx": -27},
  "layer": [
   {"data": {"name": "p1"}, "mark": {"type": "circle", "color": "#cf234b", "opacity": 0.6},
    "encoding": {
     "x": {"field": "pc1", "type": "quantitative", "title": "Principal component 1", "scale": {"domain": [-5.645, 3.826], "range": [54, 483], "nice": false, "zero": false}, "axis": {"values": [-4, -2, 0, 2], "format": "~g", "offset": -59.3}},
     "y": {"field": "rate", "type": "quantitative", "title": "Mortality rate first peak", "scale": {"type": "log", "domain": [1.711, 111], "range": [301.7, 35.3], "nice": false}, "axis": {"values": [5, 10, 30, 100], "format": "d", "offset": -54}},
     "size": {"field": "pop", "type": "quantitative", "scale": {"domain": [0, 1500000], "range": [3, 250]}, "legend": {"title": ["Population", "size"], "values": [1000, 10000, 100000, 1000000], "format": ",d", "orient": "none", "legendX": 505.7, "legendY": 116}}
    }},
   {"data": {"name": "band1"}, "mark": {"type": "area", "color": "#999999", "opacity": 0.4},
    "encoding": {"x": {"field": "pc1", "type": "quantitative", "title": "Principal component 1"}, "y": {"field": "lo", "type": "quantitative", "title": "Mortality rate first peak"}, "y2": {"field": "hi"}}},
   {"data": {"name": "band1"}, "mark": {"type": "line", "color": "#000000", "strokeWidth": 2.4},
    "encoding": {"x": {"field": "pc1", "type": "quantitative", "title": "Principal component 1"}, "y": {"field": "fit", "type": "quantitative", "title": "Mortality rate first peak"}}}
  ]
 },
 {
  "width": 578, "height": 361,
  "title": {"text": "Mortality rate second peak and principal component 1", "offset": -25, "dx": -18},
  "layer": [
   {"data": {"name": "p2"}, "mark": {"type": "circle", "color": "#cf234b", "opacity": 0.6},
    "encoding": {
     "x": {"field": "pc1", "type": "quantitative", "title": "Principal component 1", "scale": {"domain": [-5.624, 4.125], "range": [48, 494], "nice": false, "zero": false}, "axis": {"values": [-4, -2, 0, 2], "format": "~g", "offset": -57.7}},
     "y": {"field": "rate", "type": "quantitative", "title": "Mortality rate second peak", "scale": {"type": "log", "domain": [2.833, 43.5], "range": [303.3, 31.3], "nice": false}, "axis": {"values": [5, 10, 30], "format": "d", "offset": -48}},
     "size": {"field": "pop", "type": "quantitative", "scale": {"domain": [0, 1500000], "range": [3, 250]}, "legend": {"title": ["Population", "size"], "values": [1000, 10000, 100000, 1000000], "format": ",d", "orient": "none", "legendX": 507, "legendY": 116}}
    }},
   {"data": {"name": "band2"}, "mark": {"type": "area", "color": "#999999", "opacity": 0.4},
    "encoding": {"x": {"field": "pc1", "type": "quantitative", "title": "Principal component 1"}, "y": {"field": "lo", "type": "quantitative", "title": "Mortality rate second peak"}, "y2": {"field": "hi"}}},
   {"data": {"name": "band2"}, "mark": {"type": "line", "color": "#000000", "strokeWidth": 2.4},
    "encoding": {"x": {"field": "pc1", "type": "quantitative", "title": "Principal component 1"}, "y": {"field": "fit", "type": "quantitative", "title": "Mortality rate second peak"}}}
  ]
 },
 {
  "width": 591, "height": 361,
  "title": {"text": "Mortality rate first peak and human development index", "offset": -29, "dx": -22},
  "layer": [
   {"data": {"name": "p3"}, "mark": {"type": "circle", "color": "#cf234b", "opacity": 0.6},
    "encoding": {
     "x": {"field": "hdi", "type": "quantitative", "title": "Human development index", "scale": {"domain": [0.1958, 0.7543], "range": [56, 491], "nice": false, "zero": false}, "axis": {"values": [0.2, 0.3, 0.4, 0.5, 0.6, 0.7], "format": ".0%", "offset": -57.3}},
     "y": {"field": "rate", "type": "quantitative", "title": "Mortality rate first peak", "scale": {"type": "log", "domain": [1.744, 113.7], "range": [303.7, 35.7], "nice": false}, "axis": {"values": [5, 10, 30, 100], "format": "d", "offset": -56}},
     "size": {"field": "pop", "type": "quantitative", "scale": {"domain": [0, 1500000], "range": [3, 250]}, "legend": {"title": ["Population", "size"], "values": [1000, 10000, 100000, 1000000], "format": ",d", "orient": "none", "legendX": 502.7, "legendY": 118}}
    }},
   {"data": {"name": "band3"}, "mark": {"type": "area", "color": "#999999", "opacity": 0.4},
    "encoding": {"x": {"field": "hdi", "type": "quantitative", "title": "Human development index"}, "y": {"field": "lo", "type": "quantitative", "title": "Mortality rate first peak"}, "y2": {"field": "hi"}}},
   {"data": {"name": "band3"}, "mark": {"type": "line", "color": "#000000", "strokeWidth": 2.4},
    "encoding": {"x": {"field": "hdi", "type": "quantitative", "title": "Human development index"}, "y": {"field": "fit", "type": "quantitative", "title": "Mortality rate first peak"}}}
  ]
 },
 {
  "width": 578, "height": 361,
  "title": {"text": "mortality rate second peak and human development index", "offset": -27, "dx": -17.5},
  "layer": [
   {"data": {"name": "p4"}, "mark": {"type": "circle", "color": "#cf234b", "opacity": 0.6},
    "encoding": {
     "x": {"field": "hdi", "type": "quantitative", "title": "Human development index", "scale": {"domain": [0.1962, 0.7535], "range": [49, 494], "nice": false, "zero": false}, "axis": {"values": [0.2, 0.3, 0.4, 0.5, 0.6, 0.7], "format": ".0%", "offset": -55.3}},
     "y": {"field": "rate", "type": "quantitative", "title": "Mortality rate second peak", "scale": {"type": "log", "domain": [2.81, 43.4], "range": [305.7, 34], "nice": false}, "axis": {"values": [5, 10, 30], "format": "d", "offset": -49}},
     "size": {"field": "pop", "type": "quantitative", "scale": {"domain": [0, 1500000], "range": [3, 250]}, "legend": {"title": ["Population", "size"], "values": [1000, 10000, 100000, 1000000], "format": ",d", "orient": "none", "legendX": 507.7, "legendY": 118}}
    }},
   {"data": {"name": "band4"}, "mark": {"type": "area", "color": "#999999", "opacity": 0.4},
    "encoding": {"x": {"field": "hdi", "type": "quantitative", "title": "Human development index"}, "y": {"field": "lo", "type": "quantitative", "title": "Mortality rate second peak"}, "y2": {"field": "hi"}}},
   {"data": {"name": "band4"}, "mark": {"type": "line", "color": "#000000", "strokeWidth": 2.4},
    "encoding": {"x": {"field": "hdi", "type": "quantitative", "title": "Human development index"}, "y": {"field": "fit", "type": "quantitative", "title": "Mortality rate second peak"}}}
  ]
 }
]
}
